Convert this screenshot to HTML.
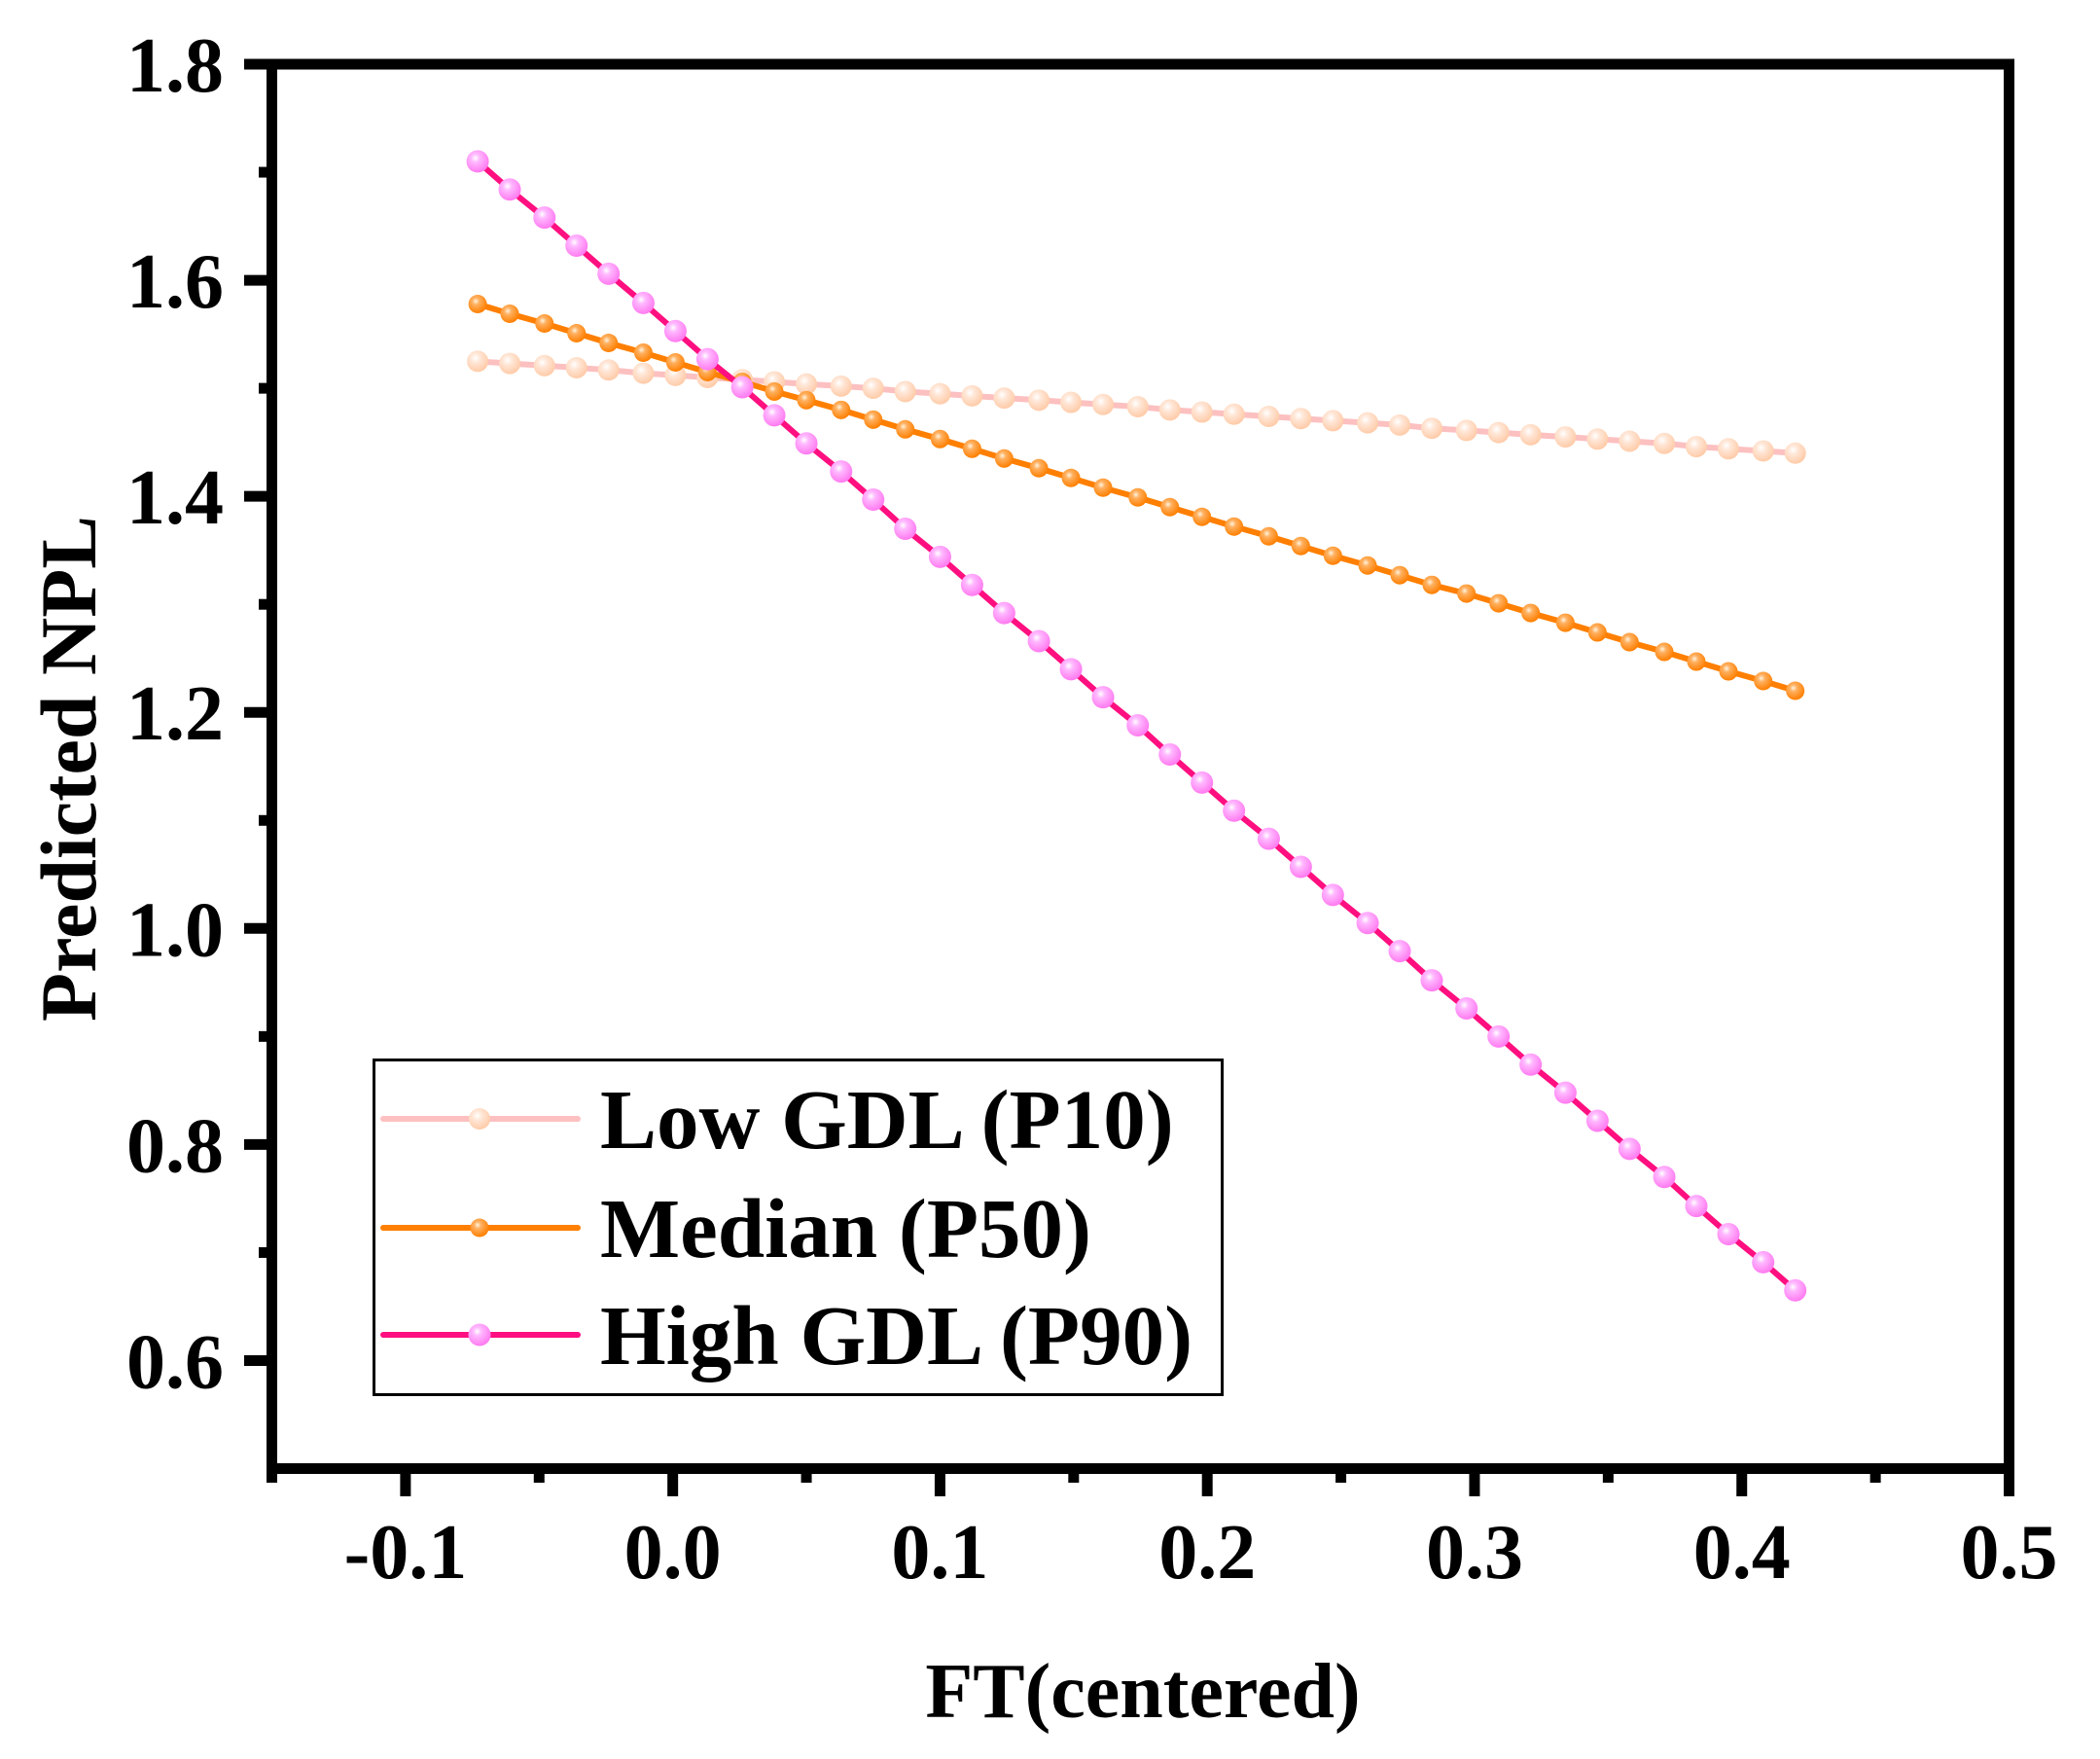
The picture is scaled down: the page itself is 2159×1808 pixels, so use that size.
<!DOCTYPE html>
<html><head><meta charset="utf-8"><style>
html,body{margin:0;padding:0;background:#fff;}
svg{display:block;font-family:"Liberation Serif",serif;font-weight:bold;}
</style></head><body>
<svg id="chart" width="2159" height="1808" viewBox="0 0 2159 1808" xmlns="http://www.w3.org/2000/svg">
<defs>
<radialGradient id="gLow" cx="0.4" cy="0.35" r="0.65"><stop offset="0" stop-color="#ffffff"/><stop offset="0.35" stop-color="#ffe6d6"/><stop offset="1" stop-color="#ffcba8"/></radialGradient>
<radialGradient id="gMed" cx="0.4" cy="0.35" r="0.65"><stop offset="0" stop-color="#fff4e0"/><stop offset="0.3" stop-color="#ffb060"/><stop offset="1" stop-color="#ff7f00"/></radialGradient>
<radialGradient id="gHigh" cx="0.4" cy="0.35" r="0.65"><stop offset="0" stop-color="#ffffff"/><stop offset="0.3" stop-color="#ffb8ff"/><stop offset="1" stop-color="#ff7af0"/></radialGradient>
</defs>
<g id="grid"></g>
<g id="series"></g>
<g id="axes"></g>
<g id="legend"></g>
</svg>
<script>
const xValues = [-0.073,-0.061,-0.048,-0.036,-0.024,-0.011,0.001,0.013,0.026,0.038,0.050,0.063,0.075,0.087,0.100,0.112,0.124,0.137,0.149,0.161,0.174,0.186,0.198,0.210,0.223,0.235,0.247,0.260,0.272,0.284,0.297,0.309,0.321,0.334,0.346,0.358,0.371,0.383,0.395,0.408,0.420];
const lowValues = [1.525,1.523,1.521,1.519,1.517,1.514,1.512,1.510,1.508,1.506,1.504,1.502,1.500,1.497,1.495,1.493,1.491,1.489,1.487,1.485,1.483,1.480,1.478,1.476,1.474,1.472,1.470,1.468,1.466,1.463,1.461,1.459,1.457,1.455,1.453,1.451,1.449,1.446,1.444,1.442,1.440];
const medianValues = [1.578,1.569,1.560,1.551,1.542,1.533,1.524,1.515,1.506,1.497,1.489,1.480,1.471,1.462,1.453,1.444,1.435,1.426,1.417,1.408,1.399,1.390,1.381,1.372,1.363,1.354,1.345,1.336,1.327,1.318,1.310,1.301,1.292,1.283,1.274,1.265,1.256,1.247,1.238,1.229,1.220];
const highValues = [1.710,1.684,1.658,1.632,1.606,1.579,1.553,1.527,1.501,1.475,1.449,1.423,1.397,1.370,1.344,1.318,1.292,1.266,1.240,1.214,1.188,1.161,1.135,1.109,1.083,1.057,1.031,1.005,0.979,0.952,0.926,0.900,0.874,0.848,0.822,0.796,0.770,0.743,0.717,0.691,0.665];
const xTickLabels = ["-0.1","0.0","0.1","0.2","0.3","0.4","0.5"];
const yTickLabels = ["0.6","0.8","1.0","1.2","1.4","1.6","1.8"];
const seriesNames = ["Low GDL (P10)","Median (P50)","High GDL (P90)"];

const NS="http://www.w3.org/2000/svg";
const L=279.5,R=2065.5,T=66,B=1509.5;
const X0=-0.15,X1=0.5,Y0=0.5,Y1=1.8;
function sx(v){return L+(v-X0)/(X1-X0)*(R-L);}
function sy(v){return B-(v-Y0)/(Y1-Y0)*(B-T);}
function mk(tag,attrs,parent){const e=document.createElementNS(NS,tag);for(const k in attrs)e.setAttribute(k,attrs[k]);parent.appendChild(e);return e;}

const seriesG=document.getElementById('series');
const styles=[
 {vals:lowValues,line:"#fcc0c0",fill:"url(#gLow)",r:11,name:"low-gdl"},
 {vals:medianValues,line:"#ff7f00",fill:"url(#gMed)",r:9.5,name:"median"},
 {vals:highValues,line:"#ff0f80",fill:"url(#gHigh)",r:11.5,name:"high-gdl"}
];
styles.forEach(s=>{
  const g=mk('g',{},seriesG);
  
  
  const pts=xValues.map((x,i)=>sx(x).toFixed(1)+','+sy(s.vals[i]).toFixed(1)).join(' ');
  const pl=mk('polyline',{points:pts,fill:'none',stroke:s.line,'stroke-width':6,'stroke-linejoin':'round'},g);
  
  
  xValues.forEach((x,i)=>{
    const c=mk('circle',{cx:sx(x),cy:sy(s.vals[i]),r:s.r,fill:s.fill},g);
    
    
  });
});

const axes=document.getElementById('axes');
const frame=mk('rect',{x:L,y:T,width:R-L,height:B-T,fill:'none',stroke:'#000','stroke-width':11},axes);


xTickLabels.forEach(lab=>{
  const v=parseFloat(lab), x=sx(v);
  const t=mk('line',{x1:x,y1:B,x2:x,y2:1538,stroke:'#000','stroke-width':11},axes);
  
  
  const tx=mk('text',{x:x,y:1622,'font-size':80,'text-anchor':'middle',fill:'#000'},axes);
  tx.textContent=lab;
  
  
  const mv=v-0.05;
  if(mv>=X0-1e-9){const m=mk('line',{x1:sx(mv),y1:B,x2:sx(mv),y2:1524,stroke:'#000','stroke-width':11},axes);
    
    }
});
yTickLabels.forEach(lab=>{
  const v=parseFloat(lab), y=sy(v);
  const t=mk('line',{x1:251,y1:y,x2:L,y2:y,stroke:'#000','stroke-width':11},axes);
  
  
  const tx=mk('text',{x:230,y:y+28,'font-size':80,'text-anchor':'end',fill:'#000'},axes);
  tx.textContent=lab;
  
  
  const mv=v-0.1;
  if(mv>Y0+1e-9){const m=mk('line',{x1:266,y1:sy(mv),x2:L,y2:sy(mv),stroke:'#000','stroke-width':11},axes);
    
    }
});
const xt=mk('text',{x:1175,y:1765,'font-size':80,'text-anchor':'middle',fill:'#000'},axes);
xt.textContent='FT(centered)';


const yt=mk('text',{x:0,y:0,'font-size':82,'text-anchor':'middle',fill:'#000',transform:'translate(98,790) rotate(-90)'},axes);
yt.textContent='Predicted NPL';



const lg=document.getElementById('legend');


const box=mk('rect',{x:384.5,y:1089.5,width:872,height:344,fill:'#fff',stroke:'#000','stroke-width':3},lg);


const baselines=[1180,1292,1402];
seriesNames.forEach((n,i)=>{
  const s=styles[i], ly=baselines[i]-30;
  const g=mk('g',{},lg);
  
  
  mk('line',{x1:394,y1:ly,x2:594,y2:ly,stroke:s.line,'stroke-width':6,'stroke-linecap':'round'},g);
  mk('circle',{cx:493,cy:ly,r:s.r,fill:s.fill},g);
  const t=mk('text',{x:617,y:baselines[i],'font-size':87,fill:'#000'},g);
  t.textContent=n;
  
  
});
</script>
</body></html>
